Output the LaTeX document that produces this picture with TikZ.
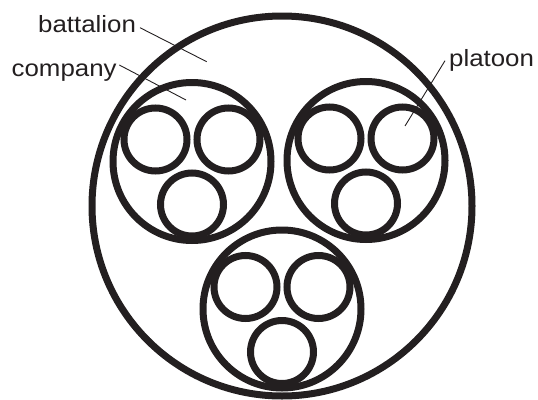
\documentclass[tikz,border=0pt]{standalone}
\usepackage{fontspec}
\setmainfont{Liberation Sans}
\newfontfamily\labfont[FakeStretch=1.1]{Liberation Sans}
\definecolor{ink}{HTML}{231F20}
\begin{document}
\begin{tikzpicture}[x=1pt,y=-1pt,
  ring/.style={circle, draw=ink, line width=7pt, inner sep=0pt, minimum size=#1},
  lbl/.style={anchor=base west, inner sep=0pt, font=\labfont\fontsize{23.5}{28}\selectfont, text=ink},
  leader/.style={draw=ink, line width=0.9pt}]
\useasboundingbox (0,0) rectangle (538,399);
% battalion
\node[ring=380] (bat) at (282,206) {};
% companies with their platoons
\foreach \n/\cx/\cy in {cl/192/161.5, cr/366/160.5, cb/282/309} {
  \node[ring=158] (\n) at (\cx,\cy) {};
  \node[ring=63] (\n-a) at (\cx-36.5,\cy-22) {};
  \node[ring=63] (\n-b) at (\cx+36.5,\cy-22) {};
  \node[ring=63] (\n-c) at (\cx,\cy+43) {};
}
% labels
\node[lbl] (tbat) at (38,32.7) {battalion};
\node[lbl] (tcom) at (11.5,76) {company};
\node[lbl] (tpla) at (449,66) {platoon};
% leader ends
\coordinate (bat-s) at (140,27.7);
\coordinate (bat-e) at (206.7,61.7);
\coordinate (com-s) at (119.3,65);
\coordinate (com-e) at (186,100);
\coordinate (pla-s) at (445,60.7);
\coordinate (pla-e) at (405,126);
\draw[leader] (bat-s) -- (bat-e);
\draw[leader] (com-s) -- (com-e);
\draw[leader] (pla-s) -- (pla-e);
\end{tikzpicture}
\end{document}
